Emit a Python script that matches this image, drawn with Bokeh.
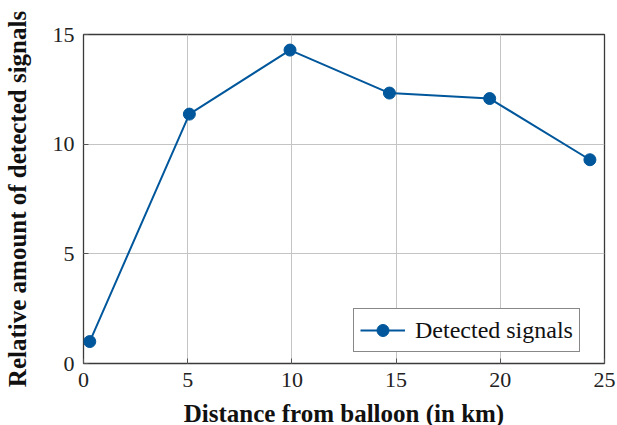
from bokeh.plotting import figure
from bokeh.models import Range1d, Legend, LegendItem, FixedTicker
from bokeh.embed import file_html
from bokeh.resources import INLINE

# Data
distance_km = [0.3, 5.08, 9.91, 14.68, 19.49, 24.30]
detected = [1.00, 11.37, 14.29, 12.33, 12.08, 9.29]
x_ticks = [0, 5, 10, 15, 20, 25]
y_ticks = [0, 5, 10, 15]

BLUE = "#00579b"
SERIF = "Liberation Serif"

p = figure(frame_width=521, frame_height=329,
           x_range=Range1d(0, 25), y_range=Range1d(0, 15),
           output_backend="svg", toolbar_location=None,
           min_border_left=83, min_border_top=34, min_border_right=13, min_border_bottom=50,
           x_axis_label="Distance from balloon (in km)",
           y_axis_label="Relative amount of detected signals")

p.background_fill_color = "white"
p.border_fill_color = "white"
p.outline_line_color = "#3a3a3a"
p.outline_line_width = 1.3

for ax in (p.xaxis[0], p.yaxis[0]):
    ax.major_label_text_font = SERIF
    ax.major_label_text_font_size = "22px"
    ax.major_label_text_color = "#222222"
    ax.axis_label_text_font = SERIF
    ax.axis_label_text_font_style = "bold"
    ax.axis_label_text_font_size = "25px"
    ax.axis_label_text_color = "#111111"
    ax.minor_tick_line_color = None
    ax.major_tick_out = 0
    ax.major_tick_in = 5
    ax.major_tick_line_color = "#555555"
    ax.axis_line_color = None
    ax.major_label_standoff = 9

p.xaxis[0].ticker = FixedTicker(ticks=x_ticks)
p.yaxis[0].ticker = FixedTicker(ticks=y_ticks)
p.yaxis[0].axis_label_standoff = 19
p.xaxis[0].axis_label_standoff = 10

p.xgrid.ticker = FixedTicker(ticks=x_ticks)
p.ygrid.ticker = FixedTicker(ticks=y_ticks)
p.grid.grid_line_color = "#c4c4c4"
p.grid.grid_line_width = 1

ln = p.line(distance_km, detected, line_color=BLUE, line_width=2)
sc = p.scatter(distance_km, detected, size=12, fill_color=BLUE, line_color=BLUE)

legend = Legend(items=[LegendItem(label="Detected signals", renderers=[ln, sc])],
                location=(270, 11))
legend.margin = 0
legend.padding = 6
legend.spacing = 0
legend.glyph_width = 45
legend.glyph_height = 30
legend.label_standoff = 10
legend.label_text_font = SERIF
legend.label_text_font_size = "24px"
legend.label_text_color = "#111111"
legend.border_line_color = "#111111"
legend.border_line_width = 1
legend.background_fill_alpha = 1
p.add_layout(legend, "center")

open("out.html", "w").write(file_html(p, INLINE))
